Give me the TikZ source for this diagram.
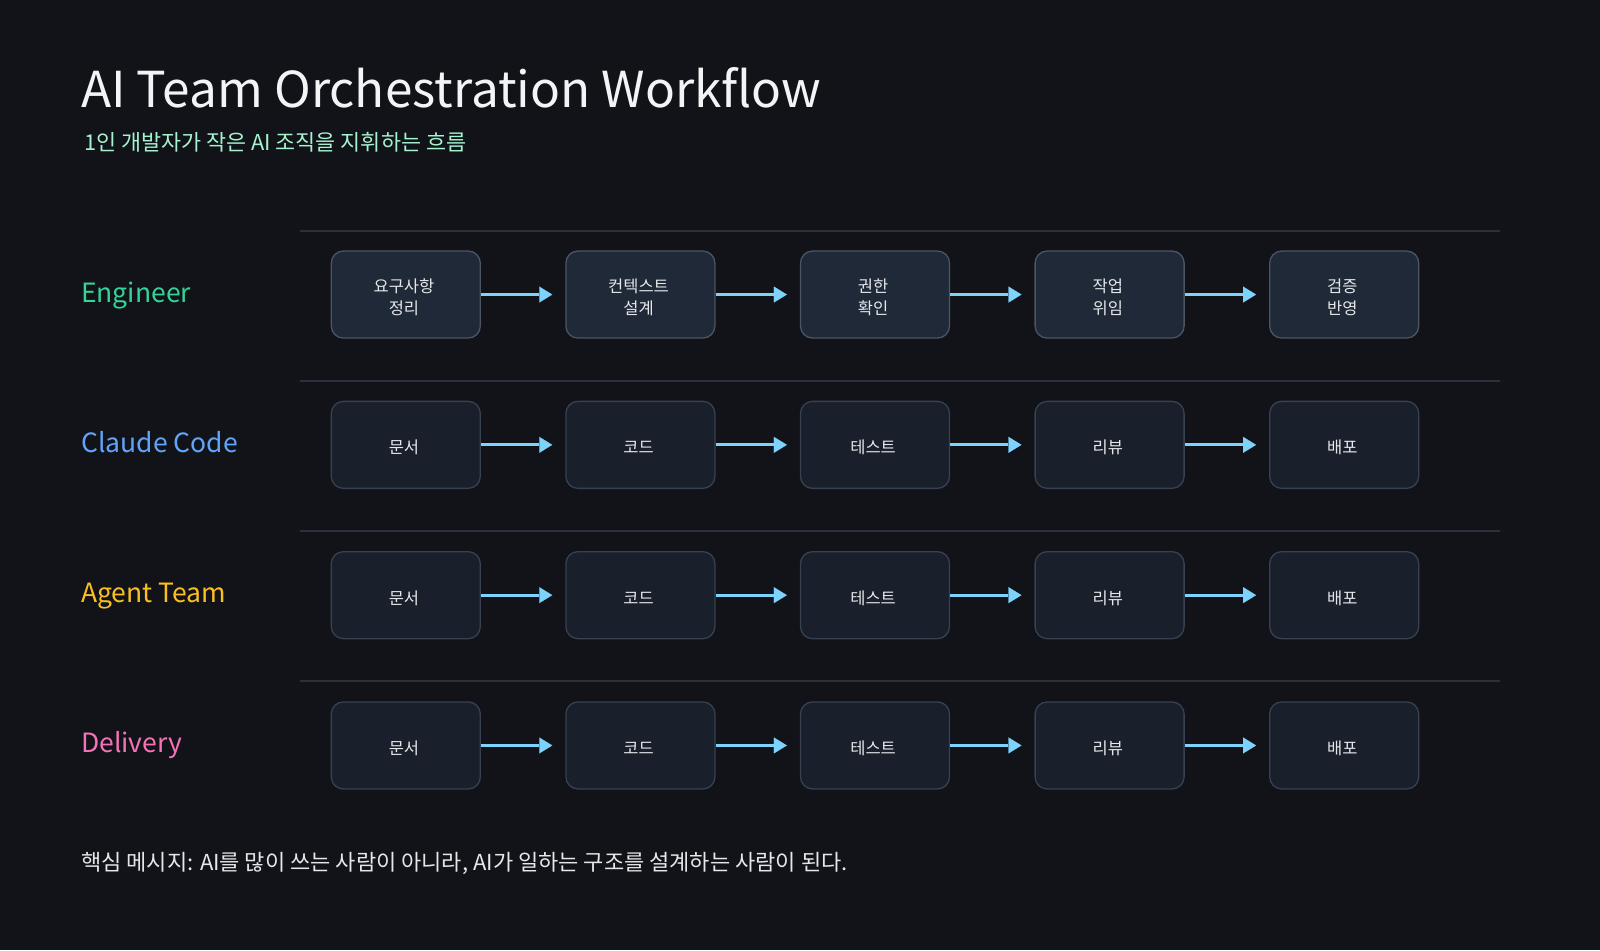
\documentclass[tikz,border=0pt]{standalone}
\usepackage{fontspec}
\setmainfont{Noto Sans CJK KR}
\usetikzlibrary{matrix,arrows.meta,positioning}

\definecolor{canvas}{HTML}{111318}
\definecolor{titletext}{HTML}{F3F4F6}
\definecolor{subtext}{HTML}{A7F3D0}
\definecolor{boxtext}{HTML}{E5E7EB}
\definecolor{boxfill}{HTML}{1A202B}
\definecolor{boxline}{HTML}{374151}
\definecolor{leadfill}{HTML}{1F2937}
\definecolor{leadline}{HTML}{4B5563}
\definecolor{ruleline}{HTML}{2A303C}
\definecolor{arrowblue}{HTML}{7DD3FC}
\definecolor{engineercol}{HTML}{34D399}
\definecolor{claudecol}{HTML}{60A5FA}
\definecolor{agentcol}{HTML}{FBBF24}
\definecolor{deliverycol}{HTML}{F472B6}

\protected\def\steplines#1#2{\begin{tabular}{@{}c@{}}#1\\#2\end{tabular}}

\begin{document}
\begin{tikzpicture}[x=1pt,y=-1pt,
  stepbox/.style={draw=boxline,fill=boxfill,rounded corners=12pt,line width=1.3pt,minimum width=149pt,minimum height=87pt,align=center,text=boxtext,text height=18pt,text depth=0pt,font=\fontsize{16.5}{22}\selectfont},
  leadbox/.style={draw=leadline,fill=leadfill,text height=31pt,text depth=13pt},
  plaintext/.style={anchor=base west,inner sep=0pt},
  rowlabel/.style={plaintext,font=\fontsize{26.5}{32}\selectfont},
  flowarrow/.style={-{Triangle[length=13pt,width=16pt,fill=arrowblue,line width=0.1pt]},line width=3pt,draw=arrowblue,shorten >=13pt},
  rowrule/.style={draw=ruleline,line width=1.5pt}]
\fill[canvas] (0,0) rectangle (1600,950);
\useasboundingbox (0,0) rectangle (1600,950);

\node[plaintext,text=titletext,font=\fontsize{49.5}{60}\selectfont] (title) at (81,107) {AI Team Orchestration Workflow};
\node[plaintext,text=subtext,font=\fontsize{21.8}{26}\selectfont] (subtitle) at (84,150) {1인 개발자가 작은 AI 조직을 지휘하는 흐름};

\draw[rowrule] (300,231) -- (1500,231);
\draw[rowrule] (300,381) -- (1500,381);
\draw[rowrule] (300,531) -- (1500,531);
\draw[rowrule] (300,681) -- (1500,681);

\matrix (flow) [matrix of nodes, row sep=62pt, column sep=84.3pt, nodes={stepbox}, row 1/.style={nodes={leadbox}}] at (875,520)
{
\steplines{요구사항}{정리} & \steplines{컨텍스트}{설계} & \steplines{권한}{확인} & \steplines{작업}{위임} & \steplines{검증}{반영} \\
문서 & 코드 & 테스트 & 리뷰 & 배포 \\
문서 & 코드 & 테스트 & 리뷰 & 배포 \\
문서 & 코드 & 테스트 & 리뷰 & 배포 \\
};

\path[flowarrow]
(flow-1-1) edge (flow-1-2) (flow-1-2) edge (flow-1-3) (flow-1-3) edge (flow-1-4) (flow-1-4) edge (flow-1-5)
(flow-2-1) edge (flow-2-2) (flow-2-2) edge (flow-2-3) (flow-2-3) edge (flow-2-4) (flow-2-4) edge (flow-2-5)
(flow-3-1) edge (flow-3-2) (flow-3-2) edge (flow-3-3) (flow-3-3) edge (flow-3-4) (flow-3-4) edge (flow-3-5)
(flow-4-1) edge (flow-4-2) (flow-4-2) edge (flow-4-3) (flow-4-3) edge (flow-4-4) (flow-4-4) edge (flow-4-5)
;

\node[rowlabel,text=engineercol] (engineer) at (81,302) {Engineer};
\node[rowlabel,text=claudecol] (claude) at (81,452) {Claude Code};
\node[rowlabel,text=agentcol] (agent) at (81,602) {Agent Team};
\node[rowlabel,text=deliverycol] (delivery) at (81,752) {Delivery};

\node[plaintext,text=boxtext,font=\fontsize{22}{26}\selectfont] (message) at (81,870) {핵심 메시지: AI를 많이 쓰는 사람이 아니라, AI가 일하는 구조를 설계하는 사람이 된다.};
\end{tikzpicture}
\end{document}
